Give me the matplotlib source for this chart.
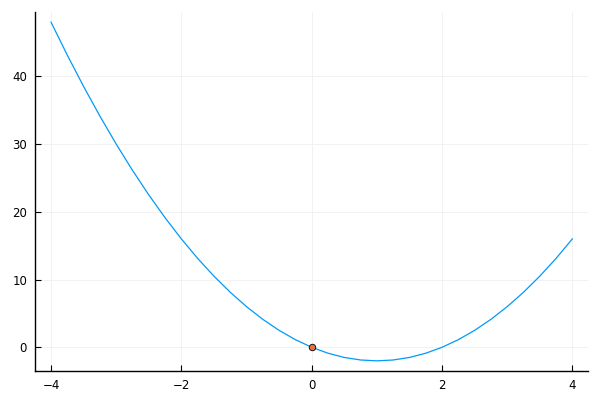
import matplotlib
matplotlib.use("Agg")
import matplotlib.pyplot as plt

# values
x = [-4.0, -3.75, -3.5, -3.25, -3.0, -2.75, -2.5, -2.25, -2.0, -1.75, -1.5,
     -1.25, -1.0, -0.75, -0.5, -0.25, 0.0, 0.25, 0.5, 0.75, 1.0, 1.25, 1.5,
     1.75, 2.0, 2.25, 2.5, 2.75, 3.0, 3.25, 3.5, 3.75, 4.0]
y = [48.0, 43.125, 38.5, 34.125, 30.0, 26.125, 22.5, 19.125, 16.0, 13.125,
     10.5, 8.125, 6.0, 4.125, 2.5, 1.125, 0.0, -0.875, -1.5, -1.875, -2.0,
     -1.875, -1.5, -0.875, 0.0, 1.125, 2.5, 4.125, 6.0, 8.125, 10.5, 13.125,
     16.0]
pt_x = [0.0]
pt_y = [0.0]
xticks = [-4, -2, 0, 2, 4]
yticks = [0, 10, 20, 30, 40]

fig = plt.figure(figsize=(6, 4), dpi=100)
ax = fig.add_axes([0.059, 0.0725, 0.921, 0.8975])

ax.plot(x, y, color="#009AFA", lw=0.9, zorder=3)
ax.scatter(pt_x, pt_y, s=22, color="#E26F46", edgecolor="black", linewidth=0.6, zorder=4)

ax.set_xlim(-4.24, 4.24)
ax.set_ylim(-3.5, 49.5)
ax.set_xticks(xticks)
ax.set_yticks(yticks)
ax.set_xticklabels(["\u22124", "\u22122", "0", "2", "4"])
ax.grid(True, color="#f0f0f0", lw=0.6)
ax.set_axisbelow(True)
for s in ["top", "right"]:
    ax.spines[s].set_visible(False)
for s in ["left", "bottom"]:
    ax.spines[s].set_linewidth(1.0)
ax.tick_params(direction="in", length=4, width=0.8, labelsize=8.5, pad=6)

fig.savefig("out.png", dpi=100)
